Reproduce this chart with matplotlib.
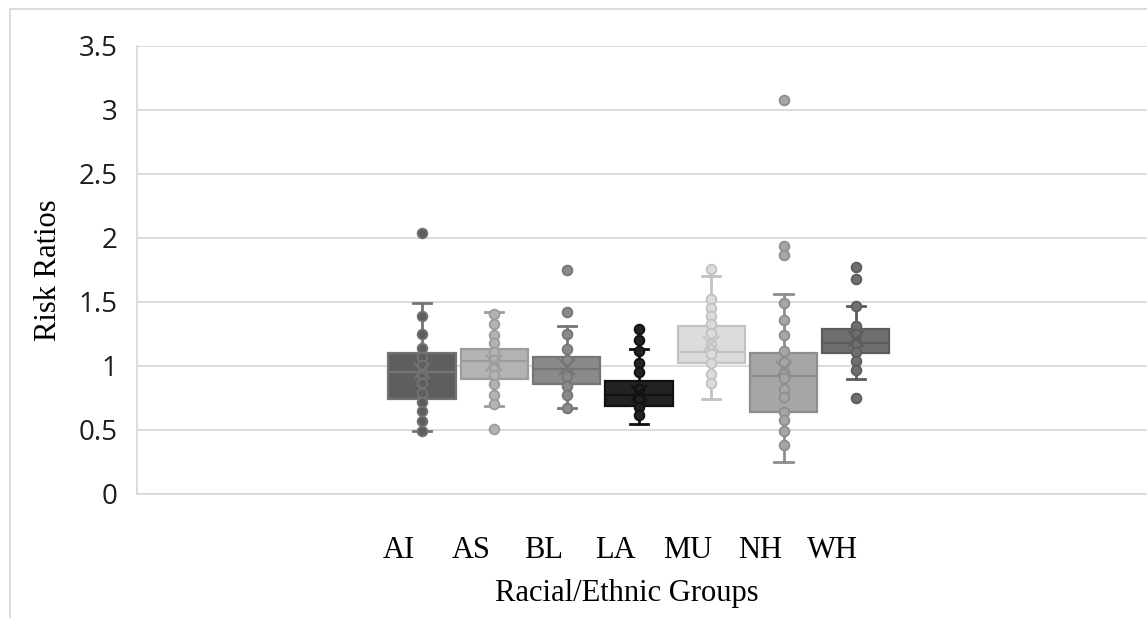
import matplotlib
matplotlib.use('Agg')
import matplotlib.pyplot as plt
from matplotlib.lines import Line2D
import numpy as np

# Risk ratios by racial/ethnic group (box stats + individual points)
groups = ['AI', 'AS', 'BL', 'LA', 'MU', 'NH', 'WH']
q1 = [0.74, 0.90, 0.86, 0.685, 1.02, 0.64, 1.10]
medians = [0.95, 1.04, 0.98, 0.77, 1.11, 0.92, 1.18]
q3 = [1.10, 1.13, 1.07, 0.885, 1.31, 1.10, 1.29]
whisker_lo = [0.49, 0.69, 0.67, 0.55, 0.74, 0.25, 0.90]
whisker_hi = [1.49, 1.42, 1.31, 1.13, 1.70, 1.56, 1.47]
means = [0.96, 1.02, 0.99, 0.79, 1.17, 0.98, 1.21]

points_ai = [2.04, 1.39, 1.25, 1.14, 1.07, 1.01, 0.94, 0.87, 0.79, 0.72, 0.65, 0.57, 0.49]
points_as = [1.41, 1.33, 1.24, 1.18, 1.11, 1.05, 0.99, 0.93, 0.86, 0.77, 0.70, 0.51]
points_bl = [1.75, 1.42, 1.25, 1.13, 1.05, 0.92, 0.84, 0.77, 0.67]
points_la = [1.29, 1.20, 1.12, 1.02, 0.95, 0.82, 0.74, 0.68, 0.62]
points_mu = [1.76, 1.52, 1.45, 1.39, 1.33, 1.26, 1.17, 1.09, 1.02, 0.94, 0.87]
points_nh = [3.08, 1.94, 1.87, 1.49, 1.36, 1.24, 1.12, 1.03, 0.955, 0.91, 0.82,
             0.755, 0.64, 0.58, 0.49, 0.38]
points_wh = [1.77, 1.68, 1.47, 1.31, 1.25, 1.18, 1.11, 1.04, 0.97, 0.75]
points = [points_ai, points_as, points_bl, points_la, points_mu, points_nh, points_wh]

y_ticks = [0, 0.5, 1, 1.5, 2, 2.5, 3, 3.5]

fills = ['#5e5e5e', '#b3b3b3', '#8a8a8a', '#222222', '#dcdcdc', '#a6a6a6', '#6f6f6f']
edges = ['#747474', '#9c9c9c', '#757575', '#111111', '#c2c2c2', '#8e8e8e', '#5c5c5c']

W, H = 1147, 618
fig = plt.figure(figsize=(W / 100, H / 100), dpi=100)
ax = fig.add_axes([137 / W, 1 - 494 / H, 1 - 137 / W, (494 - 46) / H])

x = np.arange(len(groups))
for i in range(len(groups)):
    stats = [{'med': medians[i], 'q1': q1[i], 'q3': q3[i],
              'whislo': whisker_lo[i], 'whishi': whisker_hi[i],
              'mean': means[i], 'fliers': []}]
    ax.bxp(stats, positions=[x[i]], widths=0.93, patch_artist=True,
           showmeans=False, showfliers=False,
           boxprops=dict(facecolor=fills[i], edgecolor=edges[i], linewidth=1.6),
           medianprops=dict(color=edges[i], linewidth=1.6),
           whiskerprops=dict(color=edges[i], linewidth=2),
           capprops=dict(color=edges[i], linewidth=2),
           capwidths=0.25, zorder=2)
    ax.plot(np.full(len(points[i]), x[i]), points[i], 'o', ms=7,
            mfc=fills[i], mec=edges[i], mew=1.3, zorder=3)
    ax.plot([x[i]], [means[i]], 'x', ms=11, mew=1.4, color=edges[i], zorder=4)

ax.set_xlim((137 - 422) / 72.3, (1147 - 422) / 72.3)
ax.set_ylim(0, 3.5)
ax.set_yticks(y_ticks)
ax.set_yticklabels(['0', '0.5', '1', '1.5', '2', '2.5', '3', '3.5'],
                   fontfamily='Open Sans', fontsize=20, color='#1e1e1e')
ax.yaxis.grid(True, color='#d9d9d9', linewidth=1.3)
ax.set_axisbelow(True)
ax.tick_params(axis='y', length=0, pad=14)

ax.set_xticks(x - 0.32)
ax.set_xticklabels(groups, fontfamily='Liberation Serif', fontsize=22, color='black')
ax.tick_params(axis='x', length=0, pad=30)

for side in ['top', 'right']:
    ax.spines[side].set_visible(False)
for side in ['left', 'bottom']:
    ax.spines[side].set_color('#d9d9d9')
    ax.spines[side].set_linewidth(1.3)

fig.text(627 / W, 1 - 593 / H, 'Racial/Ethnic Groups', ha='center', va='center',
         fontfamily='Liberation Serif', fontsize=22)
fig.text(48 / W, 1 - 270 / H, 'Risk Ratios', ha='center', va='center', rotation=90,
         fontfamily='Liberation Serif', fontsize=22)

# light chart-area frame
fig.add_artist(Line2D([10 / W, 10 / W], [0, 1 - 9 / H], color='#d9d9d9', lw=1.3))
fig.add_artist(Line2D([10 / W, 1], [1 - 9 / H, 1 - 9 / H], color='#d9d9d9', lw=1.3))

fig.savefig('out.png', dpi=100)
